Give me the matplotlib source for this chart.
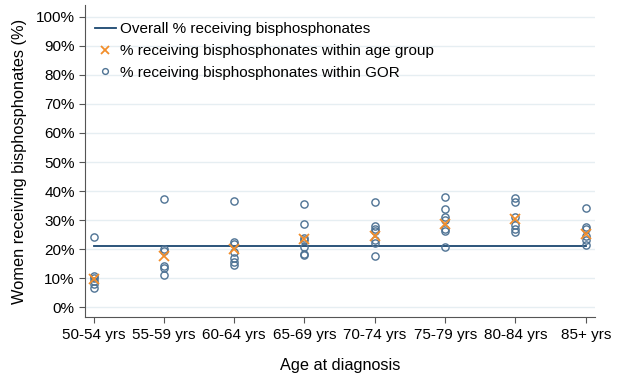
import matplotlib.pyplot as plt
import numpy as np

plt.rcParams['font.family'] = ['Liberation Sans', 'DejaVu Sans']

age_groups = ['50-54 yrs', '55-59 yrs', '60-64 yrs', '65-69 yrs',
              '70-74 yrs', '75-79 yrs', '80-84 yrs', '85+ yrs']

# % receiving bisphosphonates within each age group
age_pct = [9.9, 17.6, 20.0, 23.4, 24.6, 28.8, 30.3, 25.3]

# % receiving bisphosphonates within each GOR, by age group
gor_pct = [
    [24.3, 10.9, 10.2, 9.0, 7.9, 6.6],
    [37.1, 20.0, 19.4, 14.1, 13.6, 11.0],
    [36.7, 22.5, 21.9, 19.1, 16.8, 15.7, 14.7],
    [35.4, 28.5, 24.0, 23.3, 20.8, 18.5, 18.0],
    [36.3, 27.9, 27.1, 26.2, 23.1, 22.0, 17.8],
    [38.0, 33.9, 31.1, 30.2, 26.8, 26.1, 20.8],
    [37.5, 36.1, 31.1, 28.3, 27.1, 25.8],
    [34.2, 27.7, 26.9, 24.5, 23.1, 21.6],
]

overall_pct = 21.1

fig = plt.figure(figsize=(6.21, 3.74), dpi=100)
ax = fig.add_axes([0.137, 0.152, 0.821, 0.835])

x = np.arange(len(age_groups))

ax.plot([x[0], x[-1]], [overall_pct, overall_pct], color='#1a476f', lw=1.3,
        label='Overall % receiving bisphosphonates', zorder=2)
ax.plot(x, age_pct, linestyle='none', marker='x', color='#f28e2b', ms=6.5, mew=1.3,
        label='% receiving bisphosphonates within age group', zorder=4)

gx = np.concatenate([[i] * len(v) for i, v in enumerate(gor_pct)])
gy = np.concatenate(gor_pct)
ax.plot(gx, gy, linestyle='none', marker='o', mfc='none', mec='#4f7394', ms=5.2, mew=1.0,
        label='% receiving bisphosphonates within GOR', zorder=3)

ax.set_xlim(-0.12, 7.13)
ax.set_ylim(-3.4, 104.1)
ax.set_yticks(np.arange(0, 101, 10))
ax.set_yticklabels([f'{v}%' for v in range(0, 101, 10)])
ax.set_xticks(x)
ax.set_xticklabels(age_groups)
ax.tick_params(labelsize=11, length=4, color='#555555')
ax.grid(axis='y', color='#e6eef2', lw=1.0)
ax.set_axisbelow(True)

for s in ['top', 'right']:
    ax.spines[s].set_visible(False)
for s in ['left', 'bottom']:
    ax.spines[s].set_color('#555555')

ax.set_xlabel('Age at diagnosis', fontsize=11.7, labelpad=12)
ax.set_ylabel('Women receiving bisphosphonates (%)', fontsize=11.8, labelpad=6)

ax.legend(loc='upper left', bbox_to_anchor=(0.0, 0.976), frameon=False, fontsize=11,
          handlelength=1.35, handletextpad=0.3, labelspacing=0.5, borderaxespad=0.25,
          markerscale=0.8)

fig.savefig('out.png', dpi=100)
